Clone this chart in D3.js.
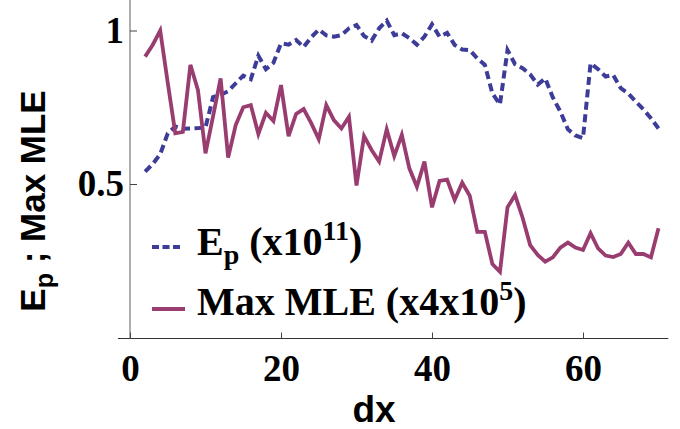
<!DOCTYPE html>
<html>
<head>
<meta charset="utf-8">
<script src="https://cdn.jsdelivr.net/npm/d3@7/dist/d3.min.js"></script>
<style>
    html, body { margin: 0; padding: 0; background: #fff; }
    svg { display: block; }
    .tick text { font-family: "Liberation Serif", "Times New Roman", serif; font-weight: bold; font-size: 37px; fill: #000; }
    .tick line { stroke: #444; stroke-width: 1; }
</style>
</head>
<body>
<div id="chart"></div>
<script>
// dx values
let dx = [2, 3, 4, 5, 6, 7, 8, 9, 10, 11, 12, 13, 14, 15, 16, 17, 18, 19, 20, 21,
    22, 23, 24, 25, 26, 27, 28, 29, 30, 31, 32, 33, 34, 35, 36, 37, 38, 39, 40, 41,
    42, 43, 44, 45, 46, 47, 48, 49, 50, 51, 52, 53, 54, 55, 56, 57, 58, 59, 60, 61,
    62, 63, 64, 65, 66, 67, 68, 69, 70];

// Ep (x10^11)
let ep = [0.540, 0.565, 0.597, 0.665, 0.687, 0.680, 0.681, 0.682, 0.684, 0.783,
    0.790, 0.802, 0.828, 0.853, 0.841, 0.918, 0.874, 0.895, 0.958, 0.954,
    0.969, 0.946, 0.978, 1.003, 0.984, 0.980, 0.985, 1.007, 1.018, 0.982,
    0.967, 1.007, 1.032, 0.985, 0.991, 0.975, 0.954, 0.980, 1.020, 0.980,
    0.992, 0.953, 0.938, 0.936, 0.909, 0.888, 0.795, 0.759, 0.936, 0.890,
    0.877, 0.857, 0.824, 0.844, 0.782, 0.736, 0.678, 0.658, 0.649, 0.893,
    0.874, 0.850, 0.855, 0.812, 0.795, 0.768, 0.743, 0.714, 0.681];

// Max MLE (x4x10^5)
let mle = [0.915, 0.953, 1.000, 0.830, 0.665, 0.670, 0.888, 0.806, 0.600, 0.720,
    0.844, 0.586, 0.692, 0.750, 0.757, 0.663, 0.732, 0.705, 0.822, 0.656,
    0.728, 0.744, 0.698, 0.646, 0.757, 0.708, 0.681, 0.719, 0.495, 0.656,
    0.611, 0.573, 0.678, 0.591, 0.660, 0.551, 0.491, 0.573, 0.424, 0.510,
    0.514, 0.448, 0.504, 0.462, 0.344, 0.344, 0.239, 0.214, 0.424, 0.464,
    0.390, 0.301, 0.269, 0.247, 0.261, 0.293, 0.309, 0.293, 0.285, 0.340,
    0.290, 0.267, 0.262, 0.272, 0.309, 0.272, 0.272, 0.261, 0.356];

let xTicks = [0, 20, 40, 60];
let yTicks = [0.5, 1];

let blue = "#3d3d99";
let red = "#993d71";

let width = 680, height = 429;

let svg = d3.select("#chart")
    .append("svg")
    .attr("width", width)
    .attr("height", height);

let x = d3.scaleLinear()
    .domain([0, 70])
    .range([130, 658.5]);

let y = d3.scaleLinear()
    .domain([0, 1])
    .range([337.5, 30.5]);

// axis lines (Mathematica style, crossing at origin)
svg.append("line")
    .attr("x1", x(-1.6)).attr("x2", x(71.3))
    .attr("y1", y(0) + 1).attr("y2", y(0) + 1)
    .attr("stroke", "#333").attr("stroke-width", 1.2);

svg.append("line")
    .attr("x1", x(0)).attr("x2", x(0))
    .attr("y1", y(0) + 1).attr("y2", y(1.1))
    .attr("stroke", "#777").attr("stroke-width", 1.2);

// x axis
let xAxis = d3.axisBottom(x)
    .tickValues(xTicks)
    .tickFormat(d3.format("d"))
    .tickSizeInner(-6)
    .tickSizeOuter(0)
    .tickPadding(16);

svg.append("g")
    .attr("transform", "translate(0," + (y(0) + 1) + ")")
    .call(xAxis)
    .call(g => g.select(".domain").remove());

// y axis
let yAxis = d3.axisLeft(y)
    .tickValues(yTicks)
    .tickFormat(d => d === 1 ? "1" : d3.format(".1f")(d))
    .tickSizeInner(-7)
    .tickSizeOuter(0)
    .tickPadding(6);

svg.append("g")
    .attr("transform", "translate(" + x(0) + ",0)")
    .call(yAxis)
    .call(g => g.select(".domain").remove());

// lines
let epLine = d3.line()
    .x((d, i) => x(dx[i]))
    .y(d => y(d));

svg.append("path")
    .datum(ep)
    .attr("fill", "none")
    .attr("stroke", blue)
    .attr("stroke-width", 4)
    .attr("stroke-dasharray", "8,4.5")
    .attr("d", epLine);

svg.append("path")
    .datum(mle)
    .attr("fill", "none")
    .attr("stroke", red)
    .attr("stroke-width", 3.8)
    .attr("stroke-linejoin", "miter")
    .attr("d", epLine);

// axis titles
svg.append("text")
    .attr("x", 374)
    .attr("y", 422)
    .attr("text-anchor", "middle")
    .style("font-family", "'Liberation Sans', Arial, sans-serif")
    .style("font-weight", "bold")
    .style("font-size", "37px")
    .text("dx");

let yTitle = svg.append("text")
    .attr("transform", "translate(45,201) rotate(-90)")
    .attr("text-anchor", "middle")
    .style("font-family", "'Liberation Sans', Arial, sans-serif")
    .style("font-weight", "bold")
    .style("font-size", "35px");
yTitle.append("tspan").text("E");
yTitle.append("tspan").attr("dy", 8).style("font-size", "25px").text("p");
yTitle.append("tspan").attr("dy", -8).text(" ; Max MLE");

// legend
let legend = svg.append("g");

legend.append("line")
    .attr("x1", 152).attr("x2", 180)
    .attr("y1", 247).attr("y2", 247)
    .attr("stroke", blue)
    .attr("stroke-width", 4)
    .attr("stroke-dasharray", "7,3.5");

legend.append("line")
    .attr("x1", 152).attr("x2", 185)
    .attr("y1", 309).attr("y2", 309)
    .attr("stroke", red)
    .attr("stroke-width", 3.8);

let t1 = legend.append("text")
    .attr("x", 197).attr("y", 255)
    .style("font-family", "'Liberation Serif', 'Times New Roman', serif")
    .style("font-weight", "bold")
    .style("font-size", "40px");
t1.append("tspan").text("E");
t1.append("tspan").attr("dy", 9).style("font-size", "28px").text("p");
t1.append("tspan").attr("dy", -9).text(" (x10");
t1.append("tspan").attr("dy", -15).style("font-size", "28px").text("11");
t1.append("tspan").attr("dy", 15).text(")");

let t2 = legend.append("text")
    .attr("x", 197).attr("y", 315)
    .style("font-family", "'Liberation Serif', 'Times New Roman', serif")
    .style("font-weight", "bold")
    .style("font-size", "40px");
t2.append("tspan").text("Max MLE (x4x10");
t2.append("tspan").attr("dy", -15).style("font-size", "28px").text("5");
t2.append("tspan").attr("dy", 15).text(")");
</script>
</body>
</html>
